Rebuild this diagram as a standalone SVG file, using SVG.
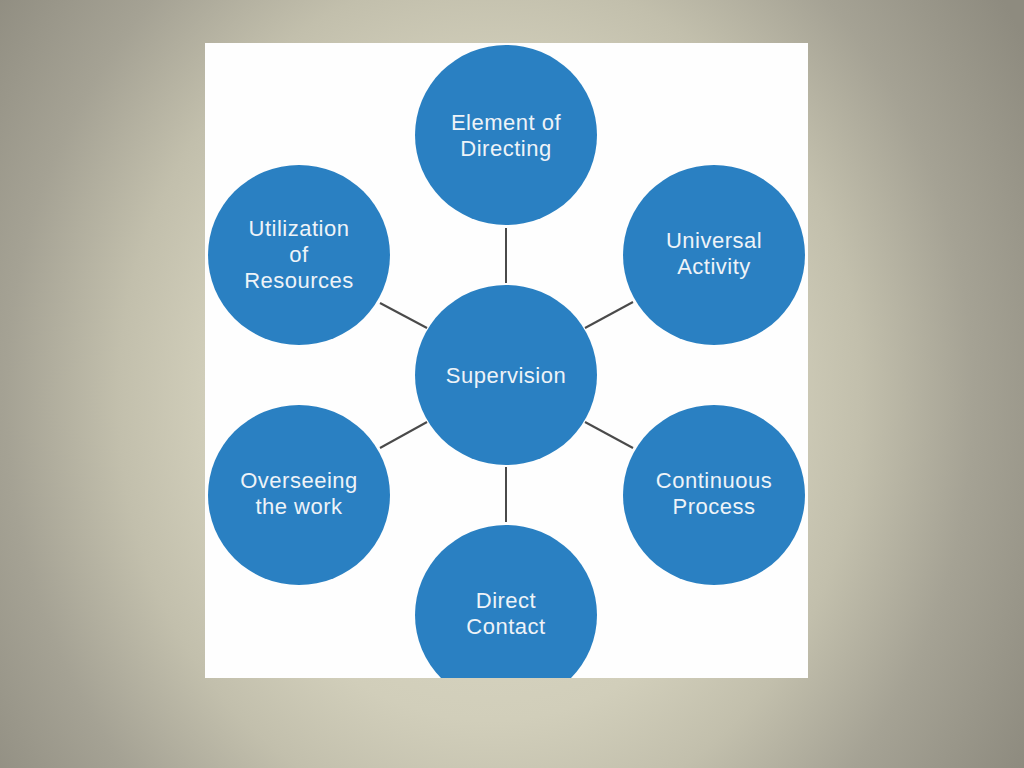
<svg xmlns="http://www.w3.org/2000/svg" width="1024" height="768" viewBox="0 0 1024 768">
<defs>
<radialGradient id="bg" gradientUnits="userSpaceOnUse" cx="490" cy="400" r="620" gradientTransform="translate(490 400) scale(1 1.15) translate(-490 -400)">
<stop offset="0" stop-color="#e0ddca"/>
<stop offset="0.45" stop-color="#d1ceba"/>
<stop offset="0.6" stop-color="#c2bfac"/>
<stop offset="0.78" stop-color="#a5a294"/>
<stop offset="1" stop-color="#8e8b7f"/>
</radialGradient>
<clipPath id="panel"><rect x="205" y="43" width="603" height="635"/></clipPath>
<style>
.node{fill:#2a80c2;}
.lbl{fill:#eef3f8;font-family:"Liberation Sans",Arial,sans-serif;font-size:22px;text-anchor:middle;letter-spacing:0.5px;}
.conn line{stroke:#4a4a4a;stroke-width:2;}
</style>
</defs>
<rect x="0" y="0" width="1024" height="768" fill="url(#bg)"/>
<rect x="205" y="43" width="603" height="635" fill="#fefefe"/>
<g id="connectors" class="conn">
<line x1="506" y1="228" x2="506" y2="283"/>
<line x1="633" y1="302" x2="585" y2="328"/>
<line x1="380" y1="303" x2="427" y2="328"/>
<line x1="380" y1="448" x2="427" y2="422"/>
<line x1="585" y1="422" x2="633" y2="448"/>
<line x1="506" y1="467" x2="506" y2="522"/>
</g>
<g clip-path="url(#panel)">
<g id="supervision"><ellipse class="node" cx="506" cy="375" rx="91" ry="90"/><text class="lbl" x="506" y="383">Supervision</text></g>
<g id="element-of-directing"><ellipse class="node" cx="506" cy="135" rx="91" ry="90"/><text class="lbl" x="506" y="130">Element of</text><text class="lbl" x="506" y="156">Directing</text></g>
<g id="universal-activity"><ellipse class="node" cx="714" cy="255" rx="91" ry="90"/><text class="lbl" x="714" y="248">Universal</text><text class="lbl" x="714" y="274">Activity</text></g>
<g id="continuous-process"><ellipse class="node" cx="714" cy="495" rx="91" ry="90"/><text class="lbl" x="714" y="488">Continuous</text><text class="lbl" x="714" y="514">Process</text></g>
<g id="direct-contact"><ellipse class="node" cx="506" cy="615" rx="91" ry="90"/><text class="lbl" x="506" y="608">Direct</text><text class="lbl" x="506" y="634">Contact</text></g>
<g id="overseeing-the-work"><ellipse class="node" cx="299" cy="495" rx="91" ry="90"/><text class="lbl" x="299" y="488">Overseeing</text><text class="lbl" x="299" y="514">the work</text></g>
<g id="utilization-of-resources"><ellipse class="node" cx="299" cy="255" rx="91" ry="90"/><text class="lbl" x="299" y="236">Utilization</text><text class="lbl" x="299" y="262">of</text><text class="lbl" x="299" y="288">Resources</text></g>
</g>
</svg>
